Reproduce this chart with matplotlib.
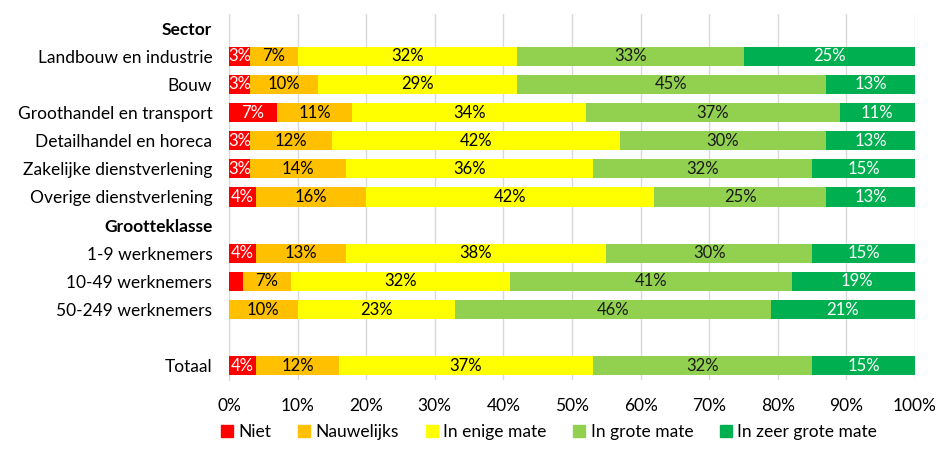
import matplotlib
matplotlib.use("Agg")
import matplotlib.pyplot as plt
from matplotlib.patches import Patch

plt.rcParams.update({"font.family": ["Lato", "DejaVu Sans"], "font.size": 12.5})

# ---- data (percentages) ----
rows = ["Sector", "Landbouw en industrie", "Bouw", "Groothandel en transport",
        "Detailhandel en horeca", "Zakelijke dienstverlening", "Overige dienstverlening",
        "Grootteklasse", "1-9 werknemers", "10-49 werknemers", "50-249 werknemers", "", "Totaal"]
headers = ["Sector", "Grootteklasse"]
series = ["Niet", "Nauwelijks", "In enige mate", "In grote mate", "In zeer grote mate"]
niet       = [0, 3, 3, 7, 3, 3, 4, 0, 4, 2, 0, 0, 4]
nauwelijks = [0, 7, 10, 11, 12, 14, 16, 0, 13, 7, 10, 0, 12]
enige      = [0, 32, 29, 34, 42, 36, 42, 0, 38, 32, 23, 0, 37]
grote      = [0, 33, 45, 37, 30, 32, 25, 0, 30, 41, 46, 0, 32]
zeer_grote = [0, 25, 13, 11, 13, 15, 13, 0, 15, 19, 21, 0, 15]

COLORS = ["#FF0000", "#FFC000", "#FFFF00", "#92D050", "#00B050"]
TXT = ["white", "black", "black", "#1a1a1a", "white"]

fig = plt.figure(figsize=(9.37, 4.58), dpi=100)
ax = fig.add_axes([229 / 937, 1 - 380 / 458, 686 / 937, 366 / 458])

y = list(range(len(rows)))
left = [0] * len(rows)
for vals, col, tc in zip([niet, nauwelijks, enige, grote, zeer_grote], COLORS, TXT):
    ax.barh(y, vals, left=left, height=0.68, color=col, zorder=3)
    for i, v in enumerate(vals):
        if v >= 3:
            ax.text(left[i] + v / 2, i, f"{v}%", ha="center", va="center",
                    color=tc, fontsize=12, zorder=4, clip_on=True)
    left = [l + v for l, v in zip(left, vals)]

ax.set_xlim(0, 100)
ax.set_ylim(len(rows) - 0.5, -0.5)
ax.set_xticks(range(0, 101, 10))
ax.set_xticklabels([f"{t}%" for t in range(0, 101, 10)])
ax.set_yticks(y)
ax.set_yticklabels(rows)
for lab in ax.get_yticklabels():
    if lab.get_text() in headers:
        lab.set_fontweight("bold")
ax.tick_params(axis="y", length=0, pad=12, labelsize=12.5)
ax.tick_params(axis="x", length=0, pad=13, labelsize=12.5)
ax.grid(axis="x", color="#D9D9D9", lw=1, zorder=0)
for s in ("top", "right", "bottom"):
    ax.spines[s].set_visible(False)
ax.spines["left"].set_color("#D9D9D9")

handles = [Patch(color=c, label=s) for c, s in zip(COLORS, series)]
fig.legend(handles=handles, loc="center", bbox_to_anchor=(549 / 937, 1 - 432 / 458), ncol=5,
           frameon=False, handlelength=0.7, handleheight=0.7, handletextpad=0.3,
           columnspacing=1.55, fontsize=12.5)

fig.savefig("out.png", dpi=100)
